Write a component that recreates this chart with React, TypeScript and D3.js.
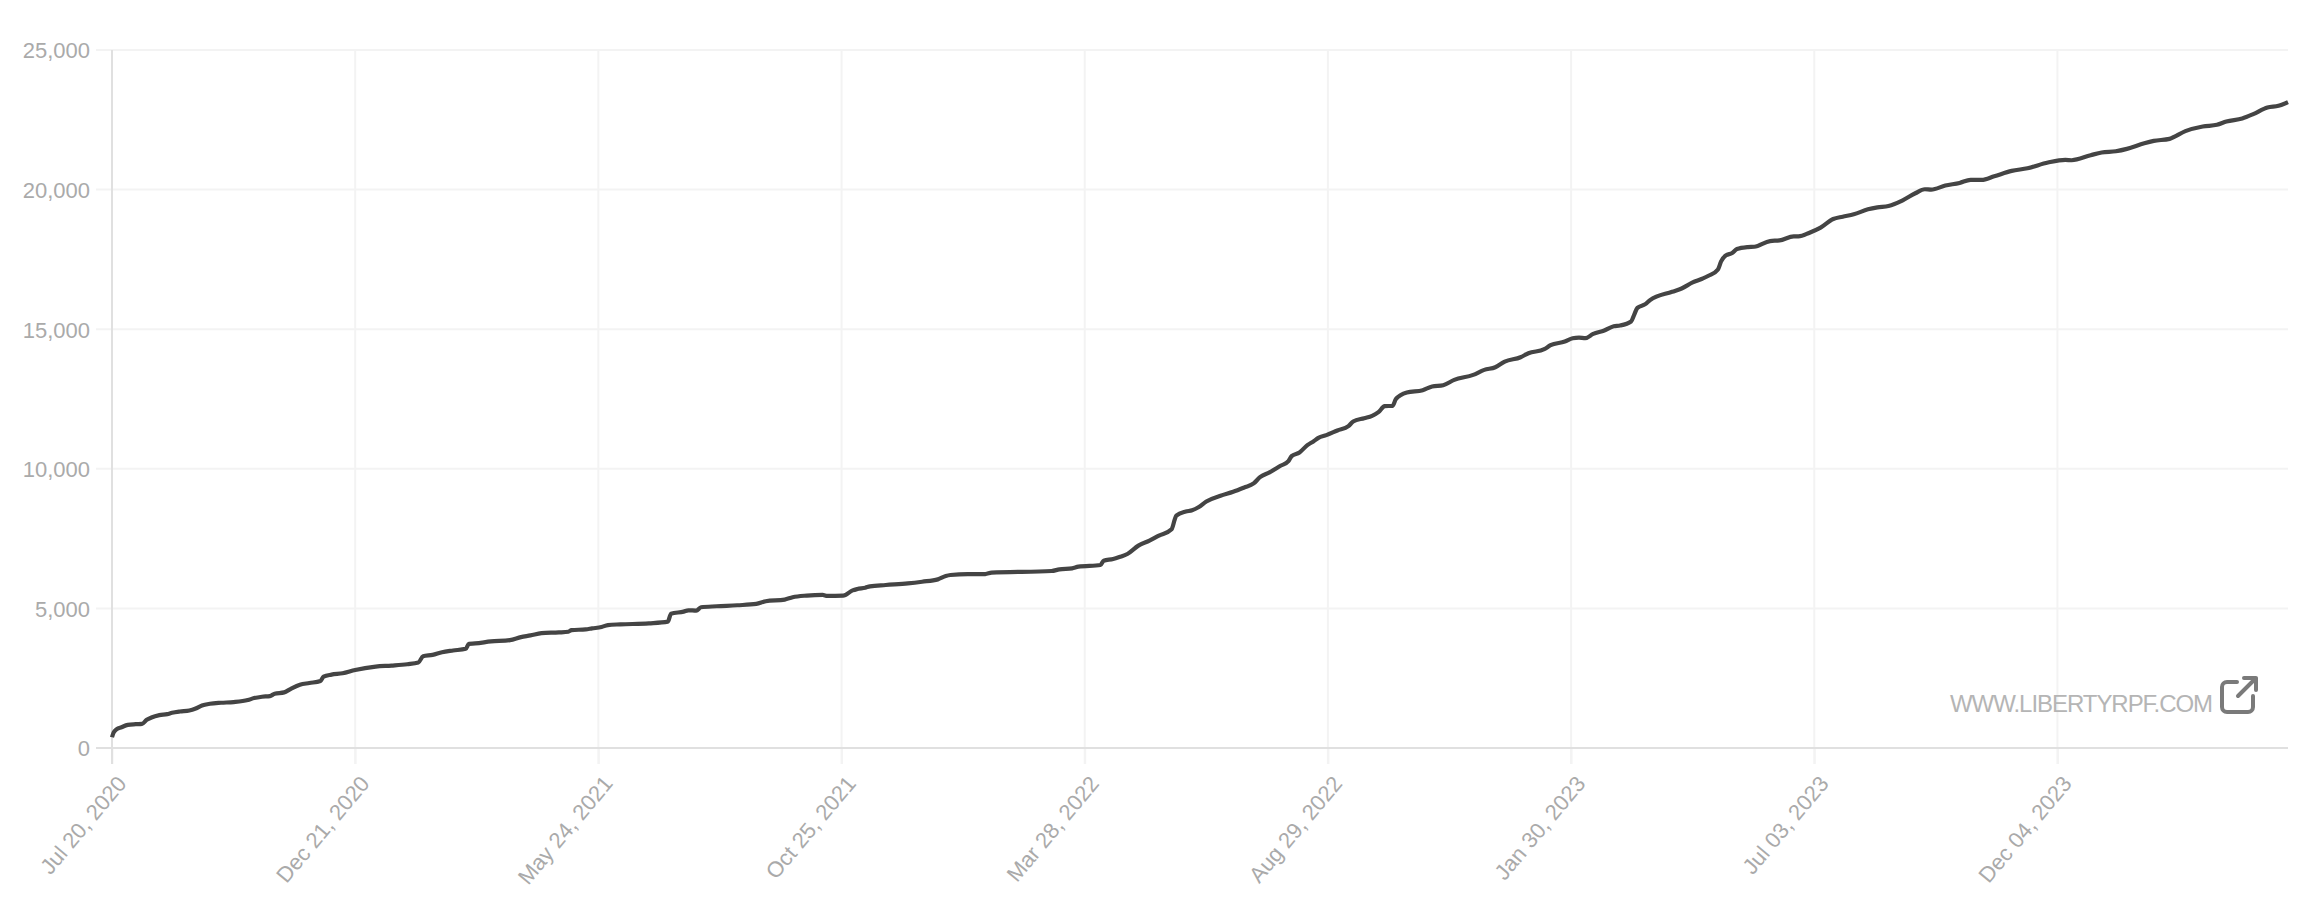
import { useEffect, useRef } from 'react';
import * as d3 from 'd3';

// days since the first date
const days = [
  0, 1, 3, 6, 10, 15, 19, 22, 25, 30, 35, 38, 43, 49, 53, 57, 62, 69, 77, 86, 90, 95, 100, 103, 109, 113, 119, 125, 132, 134,
  139, 146, 154, 167, 177, 187, 194, 197, 203, 209, 216, 224, 226, 230, 240, 252, 259, 265, 272, 283, 289, 291, 300, 304, 310, 314, 322, 340, 352, 354,
  362, 365, 370, 373, 383, 396, 408, 414, 426, 431, 440, 450, 453, 463, 469, 472, 477, 480, 490, 504, 513, 523, 528, 531, 542, 553, 557, 595, 600, 608,
  612, 626, 628, 634, 638, 643, 650, 657, 663, 671, 673, 674, 680, 684, 688, 693, 702, 710, 717, 723, 727, 733, 740, 745, 747, 752, 757, 761, 764, 769,
  776, 783, 786, 793, 798, 802, 806, 811, 813, 820, 830, 836, 843, 850, 862, 869, 876, 882, 892, 897, 907, 911, 920, 925, 929, 933, 938, 945, 951, 955,
  962, 964, 966, 971, 974, 988, 994, 1001, 1007, 1011, 1017, 1019, 1022, 1026, 1029, 1036, 1040, 1050, 1056, 1065, 1068, 1075, 1082, 1090, 1096, 1103, 1112, 1118, 1125, 1134,
  1142, 1148, 1152, 1161, 1170, 1177, 1184, 1192, 1203, 1213, 1226, 1237, 1241, 1253, 1260, 1269, 1276, 1287, 1293, 1303, 1313, 1324, 1333, 1339, 1349, 1356, 1365, 1372, 1378,
];

const values = [
  384, 552, 672, 744, 828, 852, 864, 1008, 1092, 1176, 1212, 1260, 1308, 1344, 1416, 1524, 1584, 1620, 1644, 1716, 1788, 1836, 1860, 1944, 1992, 2112, 2268, 2328, 2400, 2556,
  2628, 2676, 2796, 2916, 2952, 3000, 3060, 3288, 3336, 3432, 3492, 3552, 3732, 3744, 3816, 3864, 3972, 4032, 4116, 4140, 4164, 4224, 4248, 4284, 4332, 4404, 4428, 4464, 4524, 4812,
  4884, 4932, 4920, 5040, 5076, 5112, 5160, 5256, 5316, 5400, 5460, 5484, 5448, 5454, 5645, 5693, 5741, 5789, 5837, 5896, 5956, 6040, 6159, 6195, 6231, 6231, 6279, 6339, 6399, 6434,
  6494, 6554, 6710, 6769, 6841, 6949, 7248, 7427, 7606, 7834, 8181, 8324, 8468, 8516, 8623, 8831, 9034, 9177, 9332, 9475, 9702, 9869, 10107, 10274, 10453, 10585, 10847, 10990, 11109, 11205,
  11372, 11527, 11694, 11813, 11897, 12028, 12243, 12255, 12493, 12732, 12815, 12947, 12994, 13185, 13364, 13543, 13639, 13841, 13997, 14140, 14283, 14426, 14557, 14677, 14701, 14677, 14833, 14952, 15108, 15132,
  15275, 15526, 15765, 15897, 16041, 16340, 16459, 16674, 16806, 16914, 17141, 17428, 17643, 17727, 17870, 17942, 17954, 18157, 18181, 18325, 18325, 18456, 18636, 18947, 19030, 19114, 19294, 19365, 19413, 19617,
  19869, 20012, 20000, 20144, 20239, 20347, 20347, 20478, 20670, 20765, 20969, 21064, 21052, 21232, 21328, 21375, 21459, 21662, 21746, 21818, 22093, 22260, 22320, 22440, 22547, 22703, 22942, 23002, 23134,
];

const startDate = '2020-07-20';
const tickDates = ['2020-07-20', '2020-12-21', '2021-05-24', '2021-10-25', '2022-03-28', '2022-08-29', '2023-01-30', '2023-07-03', '2023-12-04'];
const yTicks = [0, 5000, 10000, 15000, 20000, 25000];
const siteLabel = 'WWW.LIBERTYRPF.COM';

const parse = d3.utcParse('%Y-%m-%d');
const fontFamily = '"Liberation Sans", Arial, sans-serif';

export default function App() {
  const svgRef = useRef<SVGSVGElement>(null);

  useEffect(() => {
    const w = 2312;
    const h = 906;
    const svg = d3.select(svgRef.current);
    svg.selectAll('*').remove();
    svg.attr('width', w).attr('height', h).style('background', '#fff');

    const start = parse(startDate) as Date;
    const points = days.map((d, i) => ({ date: d3.utcDay.offset(start, d), value: values[i] }));

    // scaling
    const xScale = d3.scaleUtc().domain([start, d3.utcDay.offset(start, 1378)]).range([112, 2288]);
    const yScale = d3.scaleLinear().domain([0, 25000]).range([748, 50]);

    // grid
    const grid = svg.append('g').attr('stroke', '#f3f3f3').attr('stroke-width', 2);
    grid.selectAll('.h').data(yTicks).join('line')
      .attr('x1', 96).attr('x2', 2288)
      .attr('y1', d => yScale(d)).attr('y2', d => yScale(d));
    grid.selectAll('.v').data(tickDates.slice(1)).join('line')
      .attr('x1', d => xScale(parse(d) as Date)).attr('x2', d => xScale(parse(d) as Date))
      .attr('y1', 50).attr('y2', 764);

    // axes
    const xAxis = d3.axisBottom(xScale)
      .tickValues(tickDates.map(d => parse(d) as Date))
      .tickFormat(d => d3.utcFormat('%b %d, %Y')(d as Date))
      .tickSize(16)
      .tickPadding(0);
    const yAxis = d3.axisLeft(yScale)
      .tickValues(yTicks)
      .tickFormat(d3.format(','))
      .tickSize(0)
      .tickPadding(22);

    const gx = svg.append('g').attr('transform', 'translate(0,748)').call(xAxis);
    gx.select('.domain').remove();
    gx.selectAll('line').attr('stroke', '#f3f3f3').attr('stroke-width', 2);
    gx.selectAll('text')
      .attr('text-anchor', 'end')
      .attr('dy', 0)
      .attr('y', 0)
      .attr('transform', 'translate(15,36) rotate(-50)');

    const gy = svg.append('g').attr('transform', 'translate(112,0)').call(yAxis);
    gy.select('.domain').remove();
    gy.selectAll('text').attr('dy', '0.36em');

    svg.selectAll('g text')
      .attr('fill', '#aaaaaa')
      .style('font-family', fontFamily)
      .style('font-size', '22px');

    svg.append('line').attr('x1', 96).attr('x2', 2288).attr('y1', 748).attr('y2', 748)
      .attr('stroke', '#e0e0e0').attr('stroke-width', 2);
    svg.append('line').attr('x1', 112).attr('x2', 112).attr('y1', 50).attr('y2', 764)
      .attr('stroke', '#e0e0e0').attr('stroke-width', 2);

    // data line
    const generateLine = d3.line<{ date: Date; value: number }>()
      .x(d => xScale(d.date))
      .y(d => yScale(d.value))
      .curve(d3.curveMonotoneX);
    svg.append('path')
      .attr('d', generateLine(points))
      .attr('fill', 'none')
      .attr('stroke', '#444444')
      .attr('stroke-width', 4.2)
      .attr('stroke-linejoin', 'round');

    // watermark
    svg.append('text')
      .attr('x', 1950).attr('y', 712)
      .attr('fill', '#b5b5b5')
      .style('font-family', fontFamily)
      .style('font-size', '24px')
      .style('letter-spacing', '-1.05px')
      .text(siteLabel);
    const icon = svg.append('g').attr('fill', 'none').attr('stroke', '#7a7a7a').attr('stroke-width', 4)
      .attr('stroke-linecap', 'round').attr('stroke-linejoin', 'round');
    icon.append('path').attr('d', 'M2237 682 H2227 a5 5 0 0 0 -5 5 V707 a5 5 0 0 0 5 5 H2248 a5 5 0 0 0 5 -5 V696');
    icon.append('path').attr('d', 'M2238 696 L2256 678 M2244 678 H2256 V690');
  }, []);

  return <svg ref={svgRef} style={{ position: 'absolute', left: 0, top: 0 }}></svg>;
}
